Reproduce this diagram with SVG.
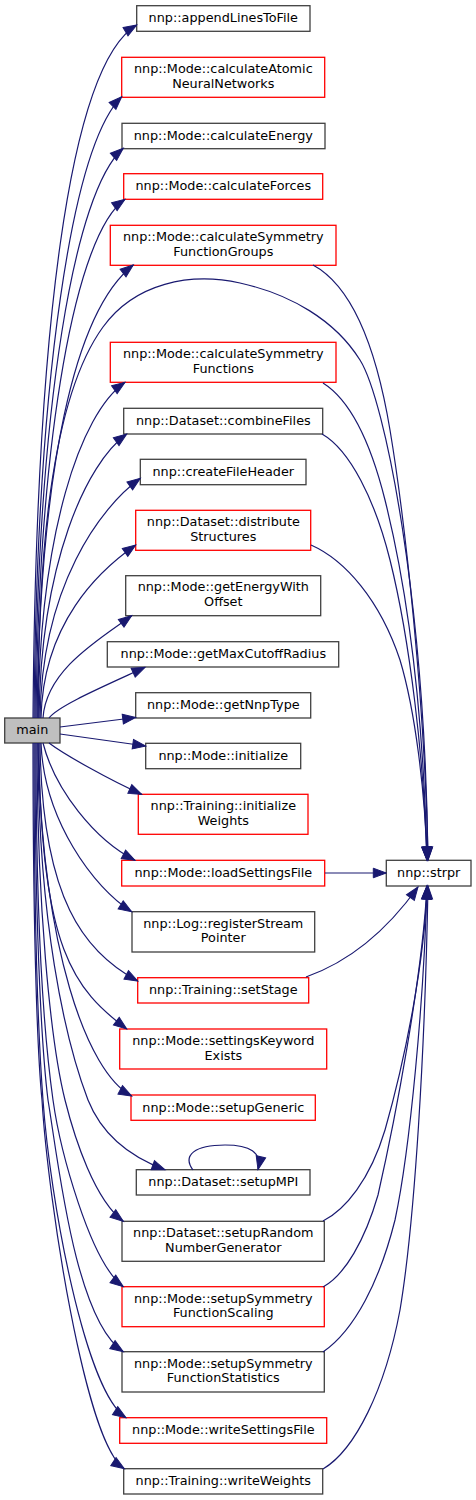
<svg xmlns="http://www.w3.org/2000/svg" width="476" height="1500" viewBox="0 0 476 1500">
<style>
.n rect{fill:#ffffff;stroke:#404040;stroke-width:1.3}
.n.r rect{stroke:#ff0000}
.n.m rect{fill:#bfbfbf}
.n text{font-family:"DejaVu Sans",sans-serif;font-size:12.8px;text-anchor:middle;fill:#000000}
.e path{fill:none;stroke:#191970;stroke-width:1.2;marker-end:url(#arr)}
</style>
<defs>
<marker id="arr" markerUnits="userSpaceOnUse" markerWidth="16" markerHeight="12" refX="13" refY="4.8" orient="auto" style="overflow:visible">
<path d="M0,0 L13,4.8 L0,9.6 z" fill="#191970" stroke="#191970" stroke-width="1"/>
</marker>
</defs>
<rect width="476" height="1500" fill="#ffffff"/>
<g id="nodes">
<g id="n_main" class="n m"><rect x="4.7" y="718" width="55.3" height="25"/><text x="32.3" y="734.3">main</text></g>
<g id="n_strpr" class="n"><rect x="386.3" y="860.3" width="84.7" height="25.7"/><text x="428.7" y="877">nnp::strpr</text></g>
<g id="n1" class="n"><rect x="136.7" y="5.7" width="173.3" height="25.6"/><text x="223.3" y="22.3">nnp::appendLinesToFile</text></g>
<g id="n2" class="n r"><rect x="121.7" y="57.3" width="203" height="40"/><text x="223.3" y="73">nnp::Mode::calculateAtomic</text><text x="223.3" y="87.6">NeuralNetworks</text></g>
<g id="n3" class="n"><rect x="122" y="123.3" width="203" height="25.4"/><text x="223.3" y="139.8">nnp::Mode::calculateEnergy</text></g>
<g id="n4" class="n r"><rect x="123.7" y="173.7" width="199" height="25.6"/><text x="223.3" y="190.3">nnp::Mode::calculateForces</text></g>
<g id="n5" class="n r"><rect x="110.3" y="225.3" width="225.7" height="40"/><text x="223.3" y="241">nnp::Mode::calculateSymmetry</text><text x="223.3" y="255.6">FunctionGroups</text></g>
<g id="n6" class="n r"><rect x="110.3" y="342.3" width="225.7" height="40"/><text x="223.3" y="358">nnp::Mode::calculateSymmetry</text><text x="223.3" y="372.6">Functions</text></g>
<g id="n7" class="n"><rect x="123.7" y="408.3" width="199" height="25.7"/><text x="223.3" y="425">nnp::Dataset::combineFiles</text></g>
<g id="n8" class="n"><rect x="140.3" y="459.3" width="165.7" height="25.4"/><text x="223.3" y="475.8">nnp::createFileHeader</text></g>
<g id="n9" class="n r"><rect x="135.7" y="510.3" width="175" height="40"/><text x="223.3" y="526">nnp::Dataset::distribute</text><text x="223.3" y="540.6">Structures</text></g>
<g id="n10" class="n"><rect x="125.7" y="575.7" width="195" height="40"/><text x="223.3" y="591.4">nnp::Mode::getEnergyWith</text><text x="223.3" y="606">Offset</text></g>
<g id="n11" class="n"><rect x="107.3" y="641.7" width="231.4" height="25.3"/><text x="223.3" y="658.1">nnp::Mode::getMaxCutoffRadius</text></g>
<g id="n12" class="n"><rect x="135.7" y="692.7" width="175" height="25.3"/><text x="223.3" y="709.1">nnp::Mode::getNnpType</text></g>
<g id="n13" class="n"><rect x="145.7" y="743.3" width="155" height="25.4"/><text x="223.3" y="759.8">nnp::Mode::initialize</text></g>
<g id="n14" class="n r"><rect x="138.3" y="794.3" width="169.7" height="40"/><text x="223.3" y="810.3">nnp::Training::initialize</text><text x="223.3" y="824.8">Weights</text></g>
<g id="n15" class="n r"><rect x="121.7" y="860.3" width="203" height="25.7"/><text x="223.3" y="877">nnp::Mode::loadSettingsFile</text></g>
<g id="n16" class="n"><rect x="132" y="911.7" width="182.7" height="40.3"/><text x="223.3" y="927.8">nnp::Log::registerStream</text><text x="223.3" y="942.3">Pointer</text></g>
<g id="n17" class="n r"><rect x="137.7" y="977.7" width="171" height="25.3"/><text x="223.3" y="994.1">nnp::Training::setStage</text></g>
<g id="n18" class="n r"><rect x="119.7" y="1029" width="207" height="40"/><text x="223.3" y="1045">nnp::Mode::settingsKeyword</text><text x="223.3" y="1059.5">Exists</text></g>
<g id="n19" class="n r"><rect x="131" y="1095" width="184.3" height="25.3"/><text x="223.3" y="1111.5">nnp::Mode::setupGeneric</text></g>
<g id="n20" class="n"><rect x="136.3" y="1169.7" width="173.7" height="25.3"/><text x="223.3" y="1186.1">nnp::Dataset::setupMPI</text></g>
<g id="n21" class="n"><rect x="122" y="1221.3" width="202.3" height="40"/><text x="223.3" y="1237.3">nnp::Dataset::setupRandom</text><text x="223.3" y="1251.8">NumberGenerator</text></g>
<g id="n22" class="n r"><rect x="122" y="1286.7" width="202.3" height="40"/><text x="223.3" y="1302.7">nnp::Mode::setupSymmetry</text><text x="223.3" y="1317.2">FunctionScaling</text></g>
<g id="n23" class="n"><rect x="122" y="1351.7" width="202.3" height="40.3"/><text x="223.3" y="1367.8">nnp::Mode::setupSymmetry</text><text x="223.3" y="1382.3">FunctionStatistics</text></g>
<g id="n24" class="n r"><rect x="119.7" y="1417.7" width="207" height="25.6"/><text x="223.3" y="1434.3">nnp::Mode::writeSettingsFile</text></g>
<g id="n25" class="n"><rect x="123.7" y="1468.7" width="199" height="25.3"/><text x="223.3" y="1485.1">nnp::Training::writeWeights</text></g>
</g>
<g id="edges" class="e">
<path d="M33,718 C36,337 68,66 136.7,25"/>
<path d="M34,718 C37,376 72.2,146.2 121.7,96.7"/>
<path d="M35,718 C38,405 74.2,190.9 123.3,148.3"/>
<path d="M36,718 C39,433 75.9,233.7 125,199.3"/>
<path d="M37,718 C40,469 74.2,311.2 133.3,265"/>
<path d="M38,718 C38,560 50,400 103,327 C135,283 190,272 240,283 C290,294 335,320 360,360 C385,400 425,600 428,860"/>
<path d="M38,718 C40,533 80,413.9 125,382.3"/>
<path d="M39,718 C41,562 86.3,463.4 126.7,434"/>
<path d="M40,718 C42,586 99.9,507.7 140.3,478.3"/>
<path d="M41,718 C43,623 98.8,570.8 135.7,545"/>
<path d="M43,718 C46,670 99.3,639.2 131.7,615.7"/>
<path d="M49,718 C58,706 100,688 145,667.3"/>
<path d="M60,727 L135.7,717.5"/>
<path d="M60,734 L145.7,746"/>
<path d="M49,743 C65,755 109.7,780 141.7,794.3"/>
<path d="M43,743 C55,790 94.9,839.9 135,860.3"/>
<path d="M41,743 C44,820 93.5,887.9 131.7,911.7"/>
<path d="M40,743 C42,900 84.7,952.9 137.7,981"/>
<path d="M39,743 C40,950 74.8,989.9 126.7,1029"/>
<path d="M38,743 C42,950 87.2,1072.3 131.7,1096"/>
<path d="M38,743 C38,920 65,1040 88,1100 C100,1130 125,1155 165,1169.7"/>
<path d="M37,743 C37,900 50,1040 65,1100 C75,1140 95,1200 123.3,1221.3"/>
<path d="M36,743 C36,950 46,1050 53,1100 C60,1150 90,1262 123.3,1286.7"/>
<path d="M35,743 C35,950 43,1060 48,1100 C58,1160 75,1320 123.3,1351.7"/>
<path d="M34,743 C34,950 40,1060 43,1100 C50,1200 85,1391 126,1417.7"/>
<path d="M33,743 C33,950 38,1060 42,1100 C48,1200 85,1443 124.3,1468.7"/>
<path d="M313,265 C350,285 375,340 390,430 C405,520 425,700 428,860"/>
<path d="M323,383 C350,400 370,440 385,500 C405,580 423,700 427,860"/>
<path d="M322,434 C350,450 375,500 390,560 C410,640 424,760 427,860"/>
<path d="M311,545 C345,560 380,600 400,660 C415,710 425,790 427,860"/>
<path d="M325,873 L386.3,873"/>
<path d="M306,977 C340,965 380,940 418,887"/>
<path d="M323,1221 C345,1210 370,1180 385,1130 C405,1060 425,960 427,886"/>
<path d="M323,1287 C345,1275 365,1240 378,1195 C395,1120 422,980 427,886"/>
<path d="M323,1352 C355,1330 380,1280 395,1220 C410,1150 424,1000 427,886"/>
<path d="M323,1469 C355,1450 385,1390 400,1310 C415,1220 425,1050 428,886"/>
<path d="M193,1170 C182,1155 195,1145 225,1145 C250,1145 262,1152 258,1169.5"/>
</g>
</svg>
